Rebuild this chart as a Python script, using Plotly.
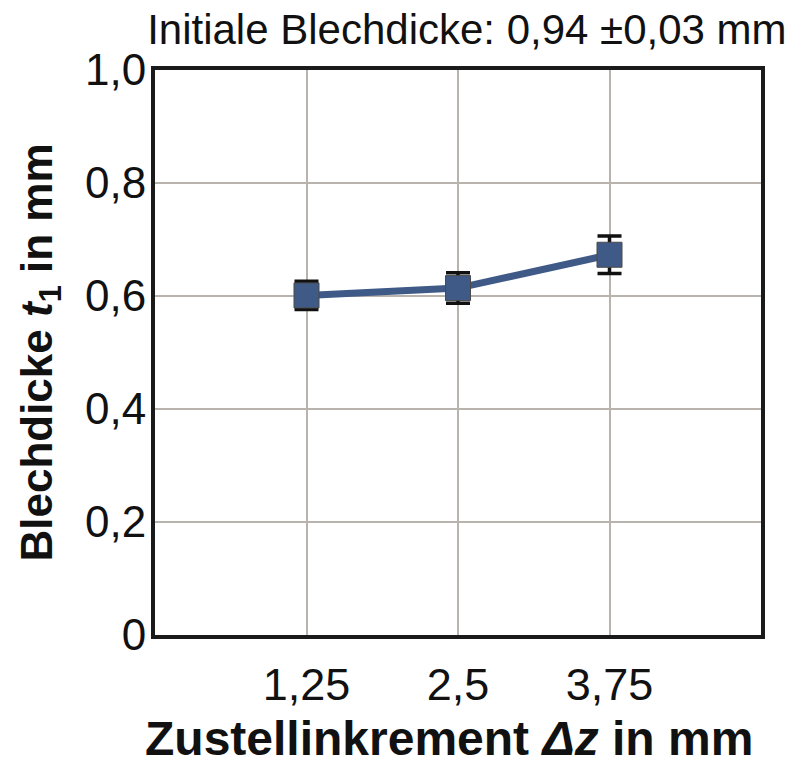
import plotly.graph_objects as go

x_vals = [1.25, 2.5, 3.75]
y_vals = [0.601, 0.614, 0.673]
y_err = [0.025, 0.027, 0.033]

x_tickvals = [1.25, 2.5, 3.75]
x_ticktext = ["1,25", "2,5", "3,75"]
y_tickvals = [0, 0.2, 0.4, 0.6, 0.8, 1.0]
y_ticktext = ["0", "0,2", "0,4", "0,6", "0,8", "1,0"]

main_color = "#3f5a86"
font_family = "Liberation Sans, Arial, sans-serif"

fig = go.Figure()
fig.add_trace(go.Scatter(
    x=x_vals, y=y_vals,
    mode="lines+markers",
    line=dict(color=main_color, width=7),
    marker=dict(symbol="square", size=25, color=main_color,
                line=dict(color="#4a4a4a", width=1)),
    error_y=dict(type="data", array=y_err, visible=True,
                 color="#111111", thickness=3.5, width=12),
    showlegend=False,
))

fig.add_annotation(
    text="<b>Zustellinkrement <i>Δz</i> in mm</b>",
    xref="paper", yref="paper", x=0.485, y=-0.184,
    xanchor="center", yanchor="middle", showarrow=False,
    font=dict(size=48, family=font_family, color="#111111"),
)

fig.update_layout(
    width=798, height=765,
    margin=dict(l=155, r=37, t=70, b=130),
    paper_bgcolor="white", plot_bgcolor="white",
    font=dict(family=font_family, color="#111111"),
    title=dict(text="Initiale Blechdicke: 0,94 ±0,03 mm",
               xref="container", yref="container",
               x=0.585, y=0.962, xanchor="center", yanchor="middle",
               font=dict(size=42, family=font_family, color="#111111")),
    xaxis=dict(
        range=[0, 5], tickvals=x_tickvals, ticktext=x_ticktext,
        showgrid=True, gridcolor="#b8b3ad", gridwidth=2,
        showline=True, linecolor="#1a1a1a", linewidth=4, mirror=True,
        ticks="", ticklabelstandoff=7, automargin=False,
        tickfont=dict(size=45, family=font_family, color="#111111"),
        zeroline=False,
    ),
    yaxis=dict(
        range=[0, 1.0], tickvals=y_tickvals, ticktext=y_ticktext,
        showgrid=True, gridcolor="#b8b3ad", gridwidth=2,
        showline=True, linecolor="#1a1a1a", linewidth=4, mirror=True,
        ticks="", ticklabelstandoff=-4, automargin=False,
        tickfont=dict(size=44, family=font_family, color="#111111"),
        zeroline=False,
        title=dict(text="<b>Blechdicke <i>t</i><sub>1</sub> in mm</b>",
                   font=dict(size=44, family=font_family, color="#111111"),
                   standoff=20),
    ),
)

fig.write_html("out.html")
